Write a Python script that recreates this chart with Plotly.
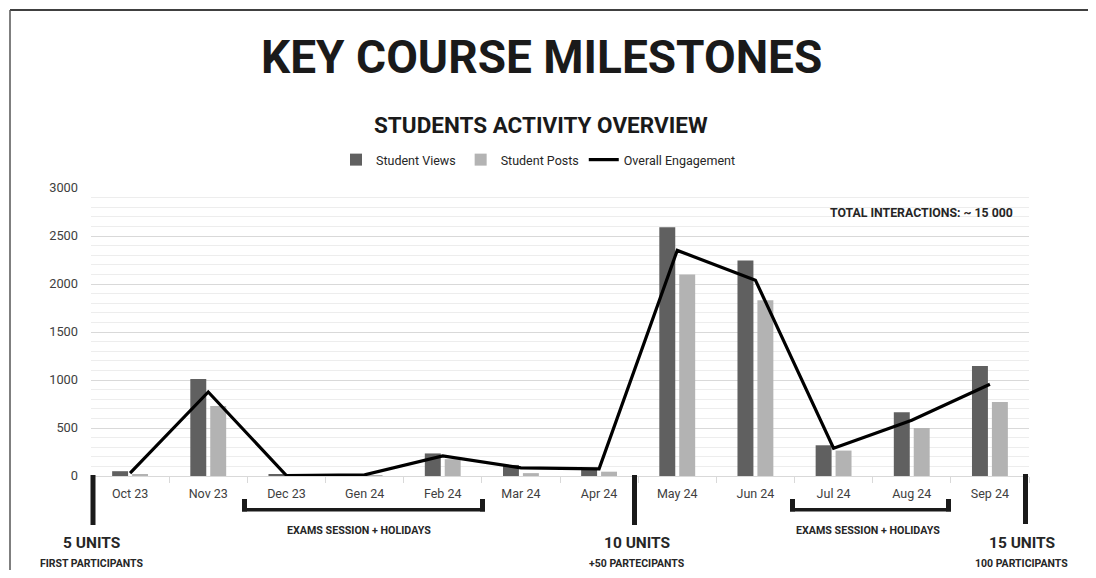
import plotly.graph_objects as go

months = ["Oct 23", "Nov 23", "Dec 23", "Gen 24", "Feb 24", "Mar 24",
          "Apr 24", "May 24", "Jun 24", "Jul 24", "Aug 24", "Sep 24"]
student_views = [50, 1010, 15, 5, 235, 115, 75, 2590, 2245, 320, 665, 1145]
student_posts = [15, 730, 3, 2, 175, 30, 45, 2100, 1830, 265, 500, 770]
overall_engagement = [30, 875, 5, 12, 210, 85, 75, 2350, 2040, 290, 580, 955]
y_ticks = [0, 500, 1000, 1500, 2000, 2500, 3000]

OFF = 8  # page body margin
W_FIG, H_FIG = 1080, 562
# plot area in screen pixels
L, R_EDGE, TOP, BOT = 91, 1029, 188, 476
PW, PH = R_EDGE - L, BOT - TOP


def px(x):
    return (x - L) / PW


def py(y):
    return (BOT - y) / PH


FONT = "Roboto"
DARK = "#606060"
LIGHT = "#b3b3b3"
TXT = "#262626"

fig = go.Figure()
fig.add_trace(go.Bar(x=months, y=student_views, name="Student Views",
                     marker=dict(color=DARK, line=dict(width=0))))
fig.add_trace(go.Bar(x=months, y=student_posts, name="Student Posts",
                     marker=dict(color=LIGHT, line=dict(width=0))))
fig.add_trace(go.Scatter(x=months, y=overall_engagement, name="Overall Engagement",
                         mode="lines", line=dict(color="#000000", width=3.2)))

ann = []


def text(x, y, s, size, weight=700, color=TXT, xanchor="center"):
    ann.append(dict(x=px(x), y=py(y), xref="paper", yref="paper", text=s,
                    showarrow=False, xanchor=xanchor, yanchor="middle",
                    font=dict(family=FONT, size=size, color=color, weight=weight)))


text(541, 57, "KEY COURSE MILESTONES", 46, color="#1a1a1a")
text(541, 125, "STUDENTS ACTIVITY OVERVIEW", 22.5, color="#1a1a1a")
text(1015, 213, "TOTAL INTERACTIONS: ~ 15 000", 12.3, color="#262626", xanchor="right")
text(91, 543, "5 UNITS", 15.5)
text(91, 563, "FIRST PARTICIPANTS", 10.5)
text(637, 543, "10 UNITS", 15.5)
text(637, 563, "+50 PARTECIPANTS", 10.5)
text(1022, 543, "15 UNITS", 15.5)
text(1021, 563, "100 PARTICIPANTS", 10.5)
text(359, 530, "EXAMS SESSION + HOLIDAYS", 10.7)
text(868, 530, "EXAMS SESSION + HOLIDAYS", 10.7)

shapes = []


def rect(x0, y0, x1, y1, color="#1a1a1a"):
    shapes.append(dict(type="rect", xref="paper", yref="paper",
                       x0=px(x0), x1=px(x1), y0=py(y0), y1=py(y1),
                       fillcolor=color, line=dict(width=0), layer="above"))


# milestone markers
rect(90.5, 475, 95.5, 525)
rect(632, 475, 637, 525)
rect(1023, 474, 1028, 524)
# brackets
for a, b in [(242, 485), (790, 951)]:
    rect(a, 508, b, 511.5)
    rect(a, 499, a + 5, 511.5)
    rect(b - 5, 499, b, 511.5)

# page border (top and left)
shapes.append(dict(type="line", xref="paper", yref="paper",
                   x0=px(10), x1=px(1096), y0=py(10), y1=py(10),
                   line=dict(color="#000000", width=1.5)))
shapes.append(dict(type="line", xref="paper", yref="paper",
                   x0=px(10), x1=px(10), y0=py(10), y1=py(578),
                   line=dict(color="#555555", width=1.5)))

fig.update_layout(
    width=W_FIG, height=H_FIG,
    margin=dict(l=L - OFF, r=W_FIG - (R_EDGE - OFF), t=TOP - OFF,
                b=H_FIG - (BOT - OFF), pad=0),
    paper_bgcolor="white", plot_bgcolor="white",
    barmode="group", bargap=0.49, bargroupgap=0.2,
    font=dict(family=FONT, size=12.5, color="#404040"),
    showlegend=True,
    legend=dict(orientation="h", x=px(538), y=py(160), xanchor="center",
                yanchor="middle", font=dict(family=FONT, size=12.5, color="#262626"),
                itemwidth=30, bgcolor="rgba(0,0,0,0)", traceorder="normal"),
    annotations=ann, shapes=shapes,
    xaxis=dict(type="category", showgrid=False, showline=True, linecolor="#d9d9d9",
               linewidth=1, ticks="outside", tickson="boundaries", ticklen=6,
               tickcolor="#d9d9d9", tickfont=dict(size=12.5, color="#404040"),
               ticklabelstandoff=6, zeroline=False, fixedrange=True),
    yaxis=dict(range=[0, 3000], tickvals=y_ticks, showgrid=True, gridcolor="#d9d9d9",
               gridwidth=1, zeroline=False, ticks="", showline=False,
               tickfont=dict(size=12.8, color="#404040"), ticklabelstandoff=12,
               minor=dict(dtick=100, showgrid=True, gridcolor="#ededed", gridwidth=1),
               fixedrange=True),
)

fig.write_html("out.html")
